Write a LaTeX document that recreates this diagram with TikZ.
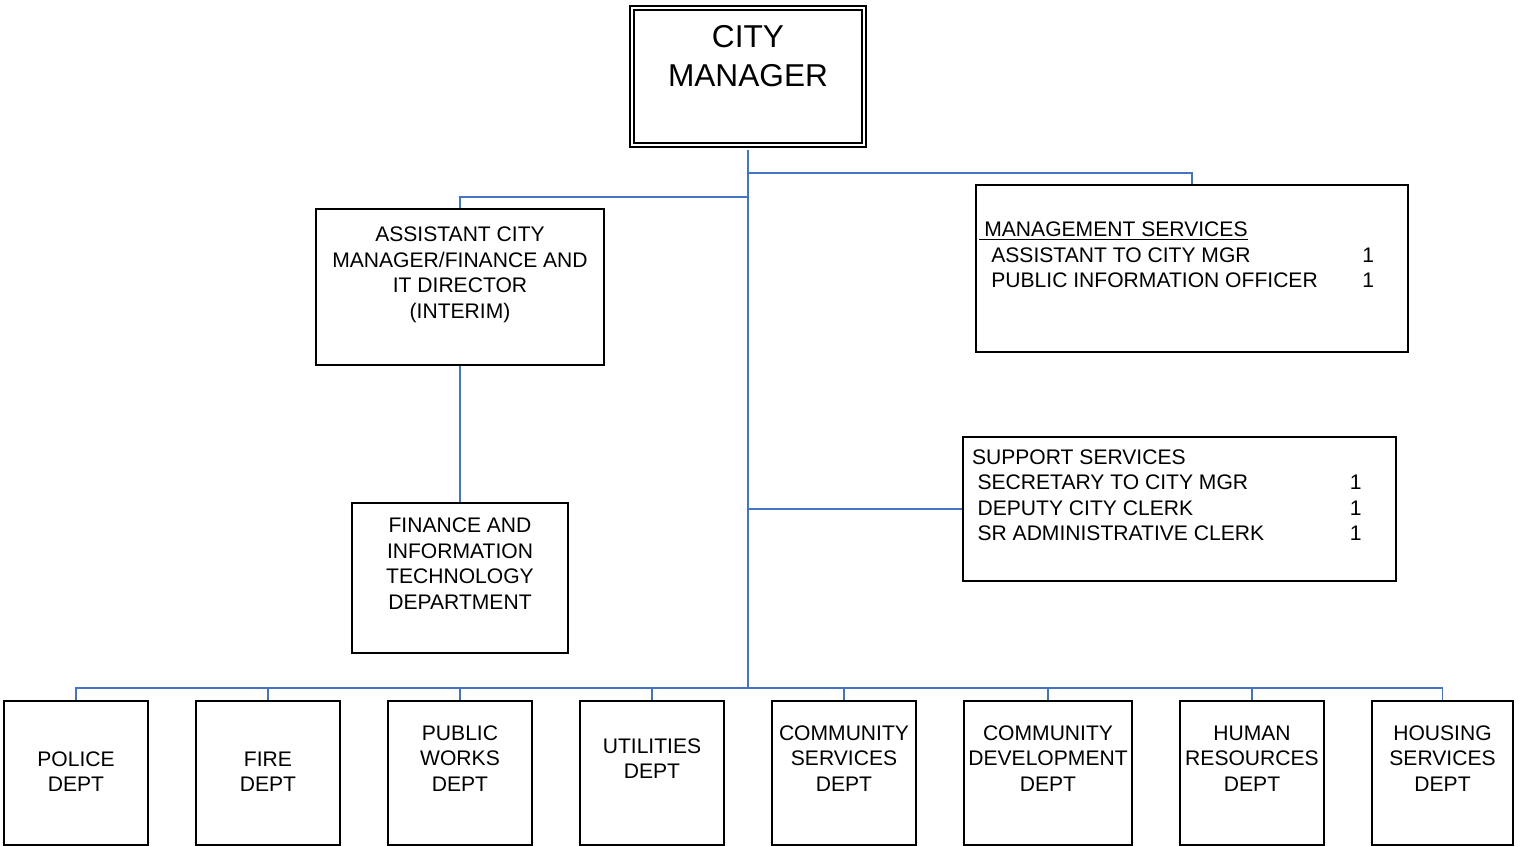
\documentclass[tikz,border=0pt]{standalone}
\usepackage{fontspec}
\setmainfont{Liberation Sans}
\usetikzlibrary{positioning}
\definecolor{linkblue}{HTML}{4472C4}

\begin{document}
\begin{tikzpicture}[x=0.02cm,y=-0.02cm]
    \tikzstyle{box} = [draw=black, line width=1.1pt, inner sep=0pt];
    \tikzstyle{dept} = [box, minimum width=2.88cm, minimum height=2.88cm];
    \tikzstyle{boxtext} = [align=center, inner sep=0pt, font=\fontsize{12}{14.5}\selectfont];
    \tikzstyle{listtext} = [align=left, anchor=north west, inner sep=0pt, font=\fontsize{12}{14.5}\selectfont];
    \tikzstyle{link} = [draw=linkblue, line width=1pt];

    \useasboundingbox (0,0) rectangle (1520,846);

    \node[draw=black, double, double distance=0.045cm, line width=1.2pt, inner sep=0pt, minimum width=4.64cm, minimum height=2.74cm] (cm) at (748,76.5) {};
    \node[boxtext, font=\fontsize{18}{22.2}\selectfont] (cm-t) at (748,56.3) {CITY\\MANAGER};

    \node[box, minimum width=5.76cm, minimum height=3.12cm] (acm) at (460,287) {};
    \node[boxtext] (acm-t) at (460,275) {ASSISTANT CITY\\MANAGER/FINANCE AND\\IT DIRECTOR\\(INTERIM)};

    \node[box, minimum width=4.32cm, minimum height=3cm] (fin) at (460,578) {};
    \node[boxtext] (fin-t) at (460,563.5) {FINANCE AND\\INFORMATION\\TECHNOLOGY\\DEPARTMENT};

    \node[box, minimum width=8.64cm, minimum height=3.34cm] (ms) at (1192,268.5) {};
    \node[listtext] (ms-t) at (979,221.5) {\underline{\hspace*{0.1cm}MANAGEMENT SERVICES}\\
        \hspace*{0.24cm}\makebox[7.42cm][l]{ASSISTANT TO CITY MGR}1\\
        \hspace*{0.24cm}\makebox[7.42cm][l]{PUBLIC INFORMATION OFFICER}1};

    \node[box, minimum width=8.66cm, minimum height=2.88cm] (ss) at (1179.5,509) {};
    \node[listtext] (ss-t) at (971.7,449) {SUPPORT SERVICES\\
        \hspace*{0.11cm}\makebox[7.45cm][l]{SECRETARY TO CITY MGR}1\\
        \hspace*{0.11cm}\makebox[7.45cm][l]{DEPUTY CITY CLERK}1\\
        \hspace*{0.11cm}\makebox[7.45cm][l]{SR ADMINISTRATIVE CLERK}1};

    \node[dept] (police) at (76,773) {};
    \node[boxtext] (police-t) at (76,771.5) {POLICE\\DEPT};
    \node[dept] (fire) at (268,773) {};
    \node[boxtext] (fire-t) at (268,771.5) {FIRE\\DEPT};
    \node[dept] (pw) at (460,773) {};
    \node[boxtext] (pw-t) at (460,758.5) {PUBLIC\\WORKS\\DEPT};
    \node[dept] (util) at (652,773) {};
    \node[boxtext] (util-t) at (652,758.5) {UTILITIES\\DEPT};
    \node[dept] (cs) at (844,773) {};
    \node[boxtext] (cs-t) at (844,758.5) {COMMUNITY\\SERVICES\\DEPT};
    \node[dept, minimum width=3.36cm] (cd) at (1048,773) {};
    \node[boxtext] (cd-t) at (1048,758.5) {COMMUNITY\\DEVELOPMENT\\DEPT};
    \node[dept] (hr) at (1252,773) {};
    \node[boxtext] (hr-t) at (1252,758.5) {HUMAN\\RESOURCES\\DEPT};
    \node[dept, minimum width=2.82cm] (hs) at (1442.5,773) {};
    \node[boxtext] (hs-t) at (1442.5,758.5) {HOUSING\\SERVICES\\DEPT};

    \coordinate (bus) at (748,688);
    \coordinate (msj) at (748,173);
    \coordinate (acmj) at (748,197);

    \draw[link, shorten <=0.08cm] (cm.south) -- (bus);
    \draw[link] (msj) -| (ms.north);
    \draw[link] (acmj) -| (acm.north);
    \draw[link] (acm.south) -- (fin.north);
    \draw[link] (ss.west) -- (ss.west -| bus);
    \foreach \d in {police,fire,pw,util,cs,cd,hr,hs}
        \draw[link] (\d.north) |- (bus);
\end{tikzpicture}
\end{document}
